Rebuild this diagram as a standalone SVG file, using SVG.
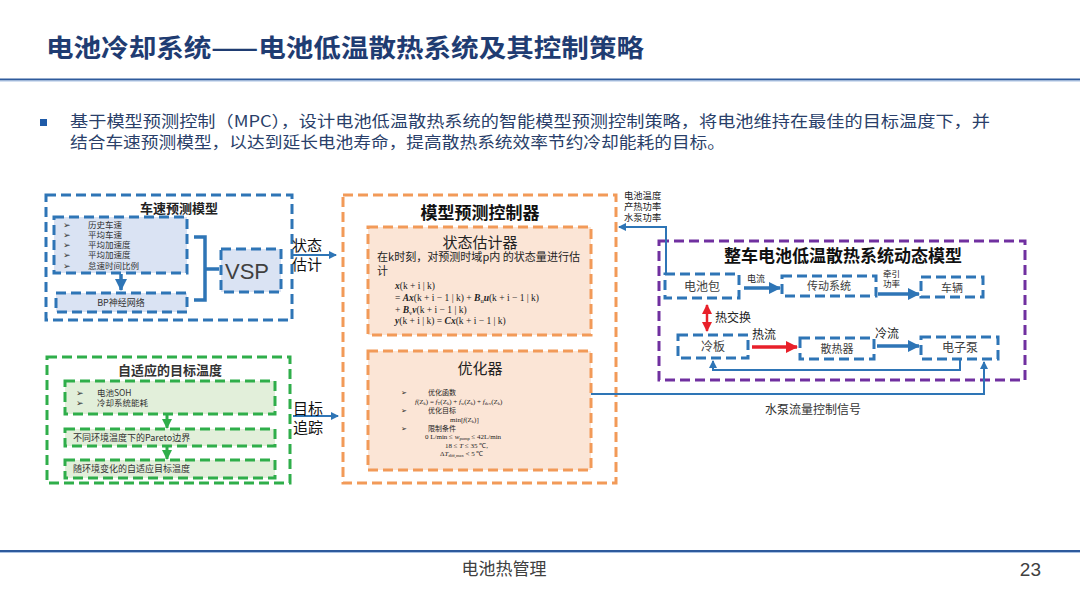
<svg xmlns="http://www.w3.org/2000/svg" width="1080" height="607" viewBox="0 0 1080 607">
<style>
.cj{font-family:"Noto Sans CJK SC","Liberation Sans",sans-serif}
.b{stroke:#2e75b6;stroke-width:3;stroke-dasharray:10 5}
.g{stroke:#2fae4a;stroke-width:3;stroke-dasharray:10 5}
.o{stroke:#f29a58;stroke-width:3;stroke-dasharray:10 5}
.p{stroke:#7030a0;stroke-width:3;stroke-dasharray:10 5;fill:none}
.bf{fill:#dae3f3}
.gf{fill:#e2efda}
.of{fill:#fbe5d6}
.wf{fill:#ffffff}
.t{fill:#404040}
.m{font-family:"Liberation Serif",serif;font-size:9.5px;fill:#222}
.m2{font-family:"Liberation Serif",serif;font-size:7px;fill:#222}
.ln{fill:none;stroke:#2e75b6;stroke-width:2}
.thick{fill:none;stroke:#2e75b6;stroke-width:3.5}
.red{fill:none;stroke:#e8202a;stroke-width:3.5}
</style>
<defs>
<marker id="ab" markerWidth="8" markerHeight="8" refX="7" refY="4" orient="auto" markerUnits="userSpaceOnUse"><path d="M0,0 L8,4 L0,8 z" fill="#2e75b6"/></marker>
<marker id="abL" markerWidth="12" markerHeight="12" refX="11" refY="6" orient="auto" markerUnits="userSpaceOnUse"><path d="M0,0 L12,6 L0,12 z" fill="#2e75b6"/></marker>
<marker id="ar" markerWidth="12" markerHeight="12" refX="11" refY="6" orient="auto" markerUnits="userSpaceOnUse"><path d="M0,0 L12,6 L0,12 z" fill="#e8202a"/></marker>
<marker id="arS" markerWidth="10" markerHeight="10" refX="9" refY="5" orient="auto-start-reverse" markerUnits="userSpaceOnUse"><path d="M0,0 L10,5 L0,10 z" fill="#e8202a"/></marker>
<marker id="ag" markerWidth="10" markerHeight="10" refX="9" refY="5" orient="auto" markerUnits="userSpaceOnUse"><path d="M0,0 L10,5 L0,10 z" fill="#2fae4a"/></marker>
</defs>
<rect width="1080" height="607" fill="#ffffff"/>

<!-- header -->
<g id="header">
<text x="46" y="57" class="cj" font-size="25" font-weight="bold" fill="#1f3c72" textLength="598" lengthAdjust="spacingAndGlyphs">电池冷却系统——电池低温散热系统及其控制策略</text>
<rect x="0" y="78.5" width="1080" height="2" fill="#2e5a9c"/>
<rect x="0" y="80.5" width="1080" height="1" fill="#a9c1e3"/>
<rect x="40" y="119" width="7" height="7" fill="#1f5ba8"/>
<text x="70" y="127" class="cj" font-size="16" fill="#2a3f6a" textLength="920" lengthAdjust="spacingAndGlyphs">基于模型预测控制（MPC），设计电池低温散热系统的智能模型预测控制策略，将电池维持在最佳的目标温度下，并</text>
<text x="70" y="148" class="cj" font-size="16" fill="#2a3f6a" textLength="655" lengthAdjust="spacingAndGlyphs">结合车速预测模型，以达到延长电池寿命，提高散热系统效率节约冷却能耗的目标。</text>
</g>

<!-- footer -->
<g id="footer">
<rect x="0" y="550" width="1080" height="2" fill="#2e5a9c"/>
<rect x="0" y="552" width="1080" height="1" fill="#a9c1e3"/>
<text x="504" y="575" class="cj t" font-size="17" text-anchor="middle">电池热管理</text>
<text x="1041" y="576" font-family="Liberation Sans,sans-serif" font-size="19" fill="#404040" text-anchor="end">23</text>
</g>

<!-- speed prediction model -->
<g id="speed-model">
<rect x="46" y="195" width="246" height="125" fill="none" class="b"/>
<text x="179" y="213" class="cj" font-size="13" font-weight="bold" fill="#222" text-anchor="middle">车速预测模型</text>
</g>
<g id="speed-inputs">
<rect x="54" y="217" width="133" height="56" class="bf b"/>
<g class="cj" font-size="8.5" fill="#333">
<text x="63" y="228">➢</text><text x="88" y="228">历史车速</text>
<text x="63" y="238">➢</text><text x="88" y="238">平均车速</text>
<text x="63" y="248">➢</text><text x="88" y="248">平均加速度</text>
<text x="63" y="258">➢</text><text x="88" y="258">平均加速度</text>
<text x="63" y="268.5">➢</text><text x="88" y="268.5">怠速时间比例</text>
</g>
</g>
<g id="bp-net">
<rect x="56" y="293" width="131" height="19" class="bf b"/>
<text x="121" y="306" class="cj" font-size="9" fill="#333" text-anchor="middle">BP神经网络</text>
</g>
<g id="vsp">
<rect x="221" y="249" width="60" height="43" class="bf b"/>
<text x="225" y="279" font-family="Liberation Sans,sans-serif" font-size="22" fill="#404040">VSP</text>
</g>

<!-- adaptive target temperature -->
<g id="target-temp">
<rect x="47" y="357" width="243" height="126" fill="none" class="g"/>
<text x="170" y="375" class="cj" font-size="13" font-weight="bold" fill="#333" text-anchor="middle">自适应的目标温度</text>
</g>
<g id="tt-inputs">
<rect x="65" y="381" width="210" height="33" class="gf g"/>
<g class="cj" font-size="8.5" fill="#333">
<text x="76" y="396">➢</text><text x="97" y="396">电池SOH</text>
<text x="76" y="406">➢</text><text x="97" y="406">冷却系统能耗</text>
</g>
</g>
<g id="tt-pareto">
<rect x="65" y="429" width="210" height="17" class="gf g"/>
<text x="73" y="441" class="cj" font-size="9" fill="#333">不同环境温度下的Pareto边界</text>
</g>
<g id="tt-adaptive">
<rect x="65" y="460" width="210" height="18" class="gf g"/>
<text x="73" y="472" class="cj" font-size="9" fill="#333">随环境变化的自适应目标温度</text>
</g>

<!-- MPC -->
<g id="mpc">
<rect x="343" y="195" width="273" height="288" fill="none" class="o"/>
<text x="480" y="219" class="cj" font-size="17" font-weight="bold" fill="#111" text-anchor="middle">模型预测控制器</text>
</g>
<g id="state-estimator">
<rect x="368" y="227" width="223" height="108" class="of o"/>
<text x="480" y="248" class="cj" font-size="15" fill="#222" text-anchor="middle">状态估计器</text>
<text x="377" y="261" class="cj" font-size="11" fill="#222" textLength="203" lengthAdjust="spacingAndGlyphs">在k时刻，对预测时域p内 的状态量进行估</text>
<text x="377" y="275" class="cj" font-size="11" fill="#222">计</text>
<text x="395" y="289" class="m"><tspan font-style="italic" font-weight="bold">x</tspan>(k + i | k)</text>
<text x="395" y="301" class="m">= <tspan font-style="italic" font-weight="bold">Ax</tspan>(k + i − 1 | k) + <tspan font-style="italic" font-weight="bold">B</tspan><tspan font-size="6.5" dy="2">u</tspan><tspan dy="-2" font-style="italic" font-weight="bold">u</tspan>(k + i − 1 | k)</text>
<text x="395" y="312.5" class="m">+ <tspan font-style="italic" font-weight="bold">B</tspan><tspan font-size="6.5" dy="2">v</tspan><tspan dy="-2" font-style="italic" font-weight="bold">v</tspan>(k + i − 1 | k)</text>
<text x="395" y="324" class="m"><tspan font-style="italic" font-weight="bold">y</tspan>(k + i | k) = <tspan font-style="italic" font-weight="bold">Cx</tspan>(k + i − 1 | k)</text>
</g>
<g id="optimizer">
<rect x="368" y="351" width="223" height="119" class="of o"/>
<text x="480" y="374" class="cj" font-size="15" fill="#222" text-anchor="middle">优化器</text>
<g class="cj" font-size="7" fill="#222">
<text x="401" y="395">➢</text><text x="428" y="395">优化函数</text>
<text x="401" y="413">➢</text><text x="428" y="413">优化目标</text>
<text x="401" y="431">➢</text><text x="428" y="431">限制条件</text>
</g>
<text x="415" y="403.5" class="m2"><tspan font-style="italic">f</tspan>(Z<tspan font-size="4.5" dy="1">k</tspan><tspan dy="-1">) = </tspan><tspan font-style="italic">f</tspan><tspan font-size="4.5" dy="1">T</tspan><tspan dy="-1">(Z</tspan><tspan font-size="4.5" dy="1">k</tspan><tspan dy="-1">) + </tspan><tspan font-style="italic">f</tspan><tspan font-size="4.5" dy="1">w</tspan><tspan dy="-1">(Z</tspan><tspan font-size="4.5" dy="1">k</tspan><tspan dy="-1">) + </tspan><tspan font-style="italic">f</tspan><tspan font-size="4.5" dy="1">dev</tspan><tspan dy="-1">(Z</tspan><tspan font-size="4.5" dy="1">k</tspan><tspan dy="-1">)</tspan></text>
<text x="450" y="421.5" class="m2">min[<tspan font-style="italic">f</tspan>(Z<tspan font-size="4.5" dy="1">k</tspan><tspan dy="-1">)]</tspan></text>
<text x="425" y="439" class="m2">0 L/min ≤ <tspan font-style="italic">w</tspan><tspan font-size="4.5" dy="1">pump</tspan><tspan dy="-1"> ≤ 42L/min</tspan></text>
<text x="445" y="447.5" class="m2">18 ≤ <tspan font-style="italic">T</tspan> ≤ 35 ℃,</text>
<text x="440" y="456" class="m2">Δ<tspan font-style="italic">T</tspan><tspan font-size="4.5" dy="1">diff,max</tspan><tspan dy="-1"> &lt; 5 ℃</tspan></text>
</g>

<!-- vehicle dynamic model -->
<g id="vehicle-model">
<rect x="659" y="241" width="366" height="139" class="p"/>
<text x="843" y="262" class="cj" font-size="17" font-weight="bold" fill="#111" text-anchor="middle">整车电池低温散热系统动态模型</text>
</g>
<g id="battery-pack">
<rect x="665" y="274" width="74" height="24" class="wf b"/>
<text x="702" y="291" class="cj t" font-size="12" text-anchor="middle">电池包</text>
</g>
<g id="drivetrain">
<rect x="782" y="276" width="94" height="20" class="wf b"/>
<text x="829" y="290" class="cj t" font-size="11" text-anchor="middle">传动系统</text>
</g>
<g id="vehicle">
<rect x="921" y="277" width="62" height="20" class="wf b"/>
<text x="952" y="292" class="cj t" font-size="11" text-anchor="middle">车辆</text>
</g>
<g id="cold-plate">
<rect x="678" y="335" width="70" height="23" class="wf b"/>
<text x="713" y="351" class="cj t" font-size="12" text-anchor="middle">冷板</text>
</g>
<g id="radiator">
<rect x="800" y="338" width="74" height="21" class="wf b"/>
<text x="837" y="353" class="cj t" font-size="11" text-anchor="middle">散热器</text>
</g>
<g id="pump">
<rect x="921" y="337" width="77" height="22" class="wf b"/>
<text x="960" y="352" class="cj t" font-size="12" text-anchor="middle">电子泵</text>
</g>

<!-- connectors -->
<g id="connectors">
<line x1="121" y1="274" x2="121" y2="290" class="thick" marker-end="url(#abL)"/>
<path d="M194,237 H205 V300 H194 M205,269 H219" class="thick"/>
<line x1="167" y1="415" x2="167" y2="428" stroke="#2fae4a" stroke-width="3" marker-end="url(#ag)"/>
<line x1="167" y1="447" x2="167" y2="459" stroke="#2fae4a" stroke-width="3" marker-end="url(#ag)"/>
<line x1="291" y1="255" x2="336" y2="255" class="ln" marker-end="url(#ab)"/>
<line x1="293" y1="416" x2="338" y2="416" class="ln" marker-end="url(#ab)"/>
<path d="M666,274 V227 H619" class="ln" marker-end="url(#ab)"/>
<line x1="744" y1="288" x2="780" y2="288" class="thick" marker-end="url(#abL)"/>
<line x1="878" y1="294" x2="919" y2="294" class="thick" marker-end="url(#abL)"/>
<line x1="707" y1="305" x2="707" y2="331" stroke="#e8202a" stroke-width="2.5" marker-start="url(#arS)" marker-end="url(#arS)"/>
<line x1="752" y1="347" x2="797" y2="347" class="red" marker-end="url(#ar)"/>
<line x1="877" y1="346" x2="919" y2="346" class="thick" marker-end="url(#abL)"/>
<path d="M960,359 V370 H713 V361" class="ln" stroke-width="2.5" marker-end="url(#ab)"/>
<path d="M591,394 H984 V362" class="ln" stroke-width="2.5" marker-end="url(#ab)"/>
</g>

<!-- labels -->
<g id="labels" class="cj">
<text x="292" y="251" font-size="15" fill="#111">状态</text>
<text x="292" y="270" font-size="15" fill="#111">估计</text>
<text x="293" y="414" font-size="15" fill="#111">目标</text>
<text x="293" y="433" font-size="15" fill="#111">追踪</text>
<text x="624" y="199" font-size="9.3" fill="#222">电池温度</text>
<text x="624" y="210" font-size="9.3" fill="#222">产热功率</text>
<text x="624" y="221" font-size="9.3" fill="#222">水泵功率</text>
<text x="747" y="282" font-size="9" fill="#222">电流</text>
<text x="883" y="277" font-size="8.5" fill="#222">牵引</text>
<text x="883" y="287" font-size="8.5" fill="#222">功率</text>
<text x="715" y="322" font-size="12" fill="#222">热交换</text>
<text x="752" y="339" font-size="12" fill="#222">热流</text>
<text x="875" y="338" font-size="12" fill="#222">冷流</text>
<text x="813" y="414" font-size="12" fill="#333" text-anchor="middle">水泵流量控制信号</text>
</g>
</svg>
